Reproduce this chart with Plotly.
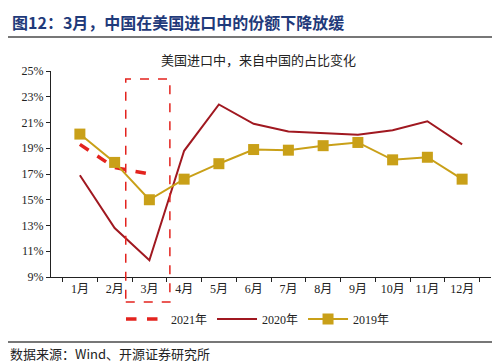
import plotly.graph_objects as go

months = ["1月", "2月", "3月", "4月", "5月", "6月", "7月", "8月", "9月", "10月", "11月", "12月"]
share_2021 = [19.3, 17.5, 17.0]
share_2020 = [16.9, 12.8, 10.3, 18.8, 22.4, 20.9, 20.3, 20.2, 20.05, 20.4, 21.1, 19.3]
share_2019 = [20.1, 17.9, 15.0, 16.6, 17.8, 18.9, 18.85, 19.2, 19.45, 18.1, 18.3, 16.6]
y_ticks = [9, 11, 13, 15, 17, 19, 21, 23, 25]

W, H = 500, 363
ml, mr, mt, mb = 43, 17, 63, 94
pw = W - ml - mr
ph = H - mt - mb

def px_x(p):
    return (p - ml) / pw

def px_y(p):
    return (H - mb - p) / ph

serif = "Liberation Serif, Noto Sans CJK SC"

fig = go.Figure()
fig.add_trace(go.Scatter(x=months[:len(share_2021)], y=share_2021, name="2021年", mode="lines",
                         line=dict(color="#E3231E", width=3.5, dash="dash")))
fig.add_trace(go.Scatter(x=months, y=share_2020, name="2020年", mode="lines",
                         line=dict(color="#A01820", width=2)))
fig.add_trace(go.Scatter(x=months, y=share_2019, name="2019年", mode="lines+markers",
                         line=dict(color="#C9A018", width=2),
                         marker=dict(symbol="square", size=11, color="#C9A018")))

fig.update_layout(
    width=W, height=H,
    margin=dict(l=ml, r=mr, t=mt, b=mb),
    paper_bgcolor="white", plot_bgcolor="white",
    font=dict(family=serif, size=12, color="#222"),
    showlegend=True,
    legend=dict(orientation="h", x=px_x(250), xanchor="center", y=px_y(311), yanchor="middle",
                font=dict(family=serif, size=12, color="#222"), itemwidth=40,
                bgcolor="rgba(0,0,0,0)"),
    xaxis=dict(type="category", showline=True, linecolor="#222", linewidth=1.2,
               ticks="outside", tickson="boundaries", ticklen=4, tickcolor="#222",
               showgrid=False, tickfont=dict(family=serif, size=12, color="#222")),
    yaxis=dict(range=[9, 25], tickvals=y_ticks, ticktext=[f"{v}%" for v in y_ticks],
               showline=True, linecolor="#222", linewidth=1.2, ticks="outside", ticklen=4,
               tickcolor="#222", showgrid=False, zeroline=False,
               tickfont=dict(family=serif, size=12, color="#222")),
)

# dashed highlight box around March
fig.add_shape(type="rect", xref="x", yref="paper", x0=1.32, x1=2.59, y0=px_y(294), y1=px_y(71),
              line=dict(color="#E3231E", width=1.5, dash="dash"), fillcolor="rgba(0,0,0,0)")

# header / footer separator lines
fig.add_shape(type="line", xref="paper", yref="paper", x0=px_x(0), x1=px_x(500), y0=px_y(29), y1=px_y(29),
              line=dict(color="#777", width=2))
fig.add_shape(type="line", xref="paper", yref="paper", x0=px_x(0), x1=px_x(492), y0=px_y(334), y1=px_y(334),
              line=dict(color="#777", width=2))

fig.add_annotation(text="<b>图12：3月，中国在美国进口中的份额下降放缓</b>", xref="paper", yref="paper",
                   x=px_x(2), y=px_y(14), xanchor="left", yanchor="middle", showarrow=False,
                   font=dict(family="Noto Sans CJK SC", size=16, color="#1F3A7A"))
fig.add_annotation(text="美国进口中，来自中国的占比变化", xref="paper", yref="paper",
                   x=px_x(250), y=px_y(51), xanchor="center", yanchor="middle", showarrow=False,
                   font=dict(family="Noto Sans CJK SC", size=13, color="#222"))
fig.add_annotation(text="数据来源：Wind、开源证券研究所", xref="paper", yref="paper",
                   x=px_x(1), y=px_y(345), xanchor="left", yanchor="middle", showarrow=False,
                   borderpad=0,
                   font=dict(family="Noto Sans CJK SC", size=13, color="#222"))

fig.write_html("out.html")
